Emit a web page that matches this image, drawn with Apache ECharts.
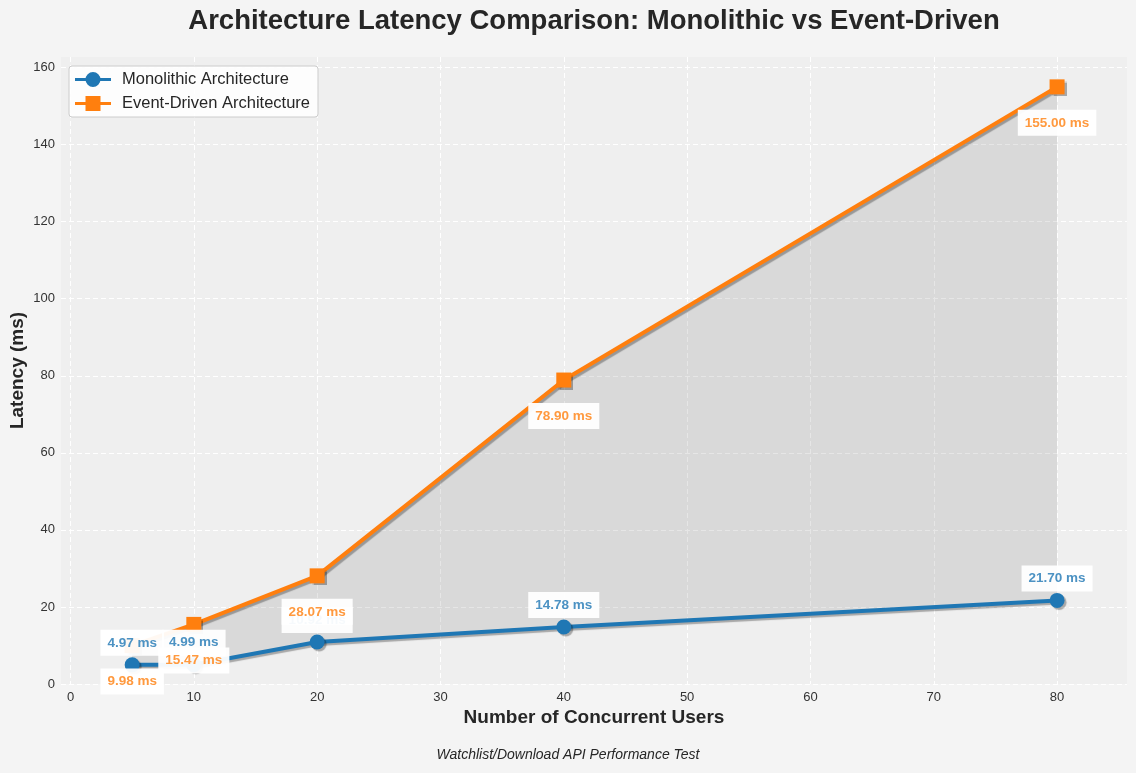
<!DOCTYPE html>
<html>
<head>
<meta charset="utf-8">
<script src="https://cdn.jsdelivr.net/npm/echarts@6/dist/echarts.min.js"></script>
<style>
html,body{margin:0;padding:0;background:#f4f4f4;}
#chart{width:1136px;height:773px;}
</style>
</head>
<body>
<div id="chart"></div>
<script>
const users = [5, 10, 20, 40, 80];
const monolithic = [4.97, 4.99, 10.92, 14.78, 21.70];
const eventDriven = [9.98, 15.47, 28.07, 78.90, 155.00];
const xTicks = [0, 10, 20, 30, 40, 50, 60, 70, 80];
const yTicks = [0, 20, 40, 60, 80, 100, 120, 140, 160];
const seriesNames = ['Monolithic Architecture', 'Event-Driven Architecture'];

const FONT = 'Liberation Sans, Arial, sans-serif';
const BLUE = '#1f77b4', ORANGE = '#ff7f0e';

const pairs = (ys) => users.map((x, i) => [x, ys[i]]);

const labelBox = (color, pos, dist) => ({
  show: true, position: pos, distance: dist,
  formatter: (p) => p.value[1].toFixed(2) + ' ms',
  color: color, fontFamily: FONT, fontWeight: 'bold', fontSize: 13.5, lineHeight: 16,
  backgroundColor: 'rgba(255,255,255,0.95)', padding: [5, 7, 5, 7]
});

const ICON_CIRCLE = 'path://M0,6.5 L36,6.5 L36,9.5 L0,9.5 Z M25.5,8 A7.5,7.5 0 1 1 10.5,8 A7.5,7.5 0 1 1 25.5,8 Z';
const ICON_SQUARE = 'path://M0,6.5 L36,6.5 L36,9.5 L0,9.5 Z M10.5,0.5 L25.5,0.5 L25.5,15.5 L10.5,15.5 Z';

const chart = echarts.init(document.getElementById('chart'), null, {renderer: 'canvas'});
chart.setOption({
  backgroundColor: '#f4f4f4',
  animation: false,
  textStyle: {fontFamily: FONT},
  grid: {left: 61, right: 9, top: 57, bottom: 89, show: true, backgroundColor: '#efefef', borderWidth: 0,
         containLabel: false, outerBoundsMode: 'none'},
  legend: {
    orient: 'vertical', left: 69, top: 66,
    data: [{name: seriesNames[0], icon: ICON_CIRCLE}, {name: seriesNames[1], icon: ICON_SQUARE}],
    backgroundColor: 'rgba(255,255,255,0.85)', borderColor: '#cccccc', borderWidth: 1, borderRadius: 3,
    padding: [5, 8, 5, 6], itemGap: 7, itemWidth: 36, itemHeight: 15,
    textStyle: {fontSize: 16.5, color: '#262626', fontFamily: FONT, padding: [0, 0, 0, 6]}
  },
  xAxis: {
    type: 'value', min: -0.77, max: 85.67,
    name: 'Number of Concurrent Users', nameLocation: 'middle', nameGap: 24, nameMoveOverlap: false,
    nameTextStyle: {fontSize: 19, fontWeight: 'bold', color: '#262626', fontFamily: FONT},
    axisLine: {show: false},
    axisTick: {show: false, customValues: xTicks},
    axisLabel: {customValues: xTicks, color: '#333333', fontSize: 13, margin: 7, fontFamily: FONT},
    splitLine: {show: true, lineStyle: {color: '#ffffff', type: [5, 3], width: 1}}
  },
  yAxis: {
    type: 'value', min: 0, max: 162.75,
    name: 'Latency (ms)', nameLocation: 'middle', nameGap: 34, nameMoveOverlap: false,
    nameTextStyle: {fontSize: 19, fontWeight: 'bold', color: '#262626', fontFamily: FONT},
    axisLine: {show: false},
    axisTick: {show: false, customValues: yTicks},
    axisLabel: {customValues: yTicks, color: '#333333', fontSize: 13, margin: 6, fontFamily: FONT},
    splitLine: {show: true, lineStyle: {color: '#ffffff', type: [5, 3], width: 1}}
  },
  series: [
    {
      type: 'custom', z: 1, silent: true,
      data: pairs(eventDriven),
      renderItem: function (params, api) {
        if (params.dataIndex !== 0) return null;
        const pts = [];
        for (let i = 0; i < users.length; i++) pts.push(api.coord([users[i], eventDriven[i]]));
        for (let i = users.length - 1; i >= 0; i--) pts.push(api.coord([users[i], monolithic[i]]));
        return {type: 'polygon', shape: {points: pts}, style: {fill: 'rgba(128,128,128,0.2)'}};
      }
    },
    {
      name: seriesNames[0], type: 'line', data: pairs(monolithic), z: 3,
      symbol: 'circle', symbolSize: 15,
      itemStyle: {color: BLUE, shadowColor: 'rgba(0,0,0,0.3)', shadowOffsetX: 2, shadowOffsetY: 2, shadowBlur: 1},
      lineStyle: {color: BLUE, width: 4, shadowColor: 'rgba(0,0,0,0.3)', shadowOffsetX: 2, shadowOffsetY: 2, shadowBlur: 1}
    },
    {
      name: seriesNames[1], type: 'line', data: pairs(eventDriven), z: 4,
      symbol: 'rect', symbolSize: 15,
      itemStyle: {color: ORANGE, shadowColor: 'rgba(0,0,0,0.3)', shadowOffsetX: 2, shadowOffsetY: 2, shadowBlur: 1},
      lineStyle: {color: ORANGE, width: 4, shadowColor: 'rgba(0,0,0,0.3)', shadowOffsetX: 2, shadowOffsetY: 2, shadowBlur: 1}
    },
    {
      type: 'scatter', data: pairs(monolithic), z: 10, symbolSize: 14, silent: true,
      itemStyle: {color: 'transparent', opacity: 1}, label: labelBox('#4c92c3', 'top', 2)
    },
    {
      type: 'scatter', data: pairs(eventDriven), z: 11, symbolSize: 14, silent: true,
      itemStyle: {color: 'transparent', opacity: 1}, label: labelBox('#ff993e', 'bottom', 16)
    }
  ],
  graphic: [
    {type: 'text', x: 594, y: 21, style: {text: 'Architecture Latency Comparison: Monolithic vs Event-Driven',
      fill: '#262626', font: 'bold 27.5px ' + FONT, textAlign: 'center', textVerticalAlign: 'middle'}},
    {type: 'text', x: 568, y: 755, style: {text: 'Watchlist/Download API Performance Test',
      fill: '#262626', font: 'italic 14px ' + FONT, textAlign: 'center', textVerticalAlign: 'middle'}}
  ]
});
</script>
</body>
</html>
